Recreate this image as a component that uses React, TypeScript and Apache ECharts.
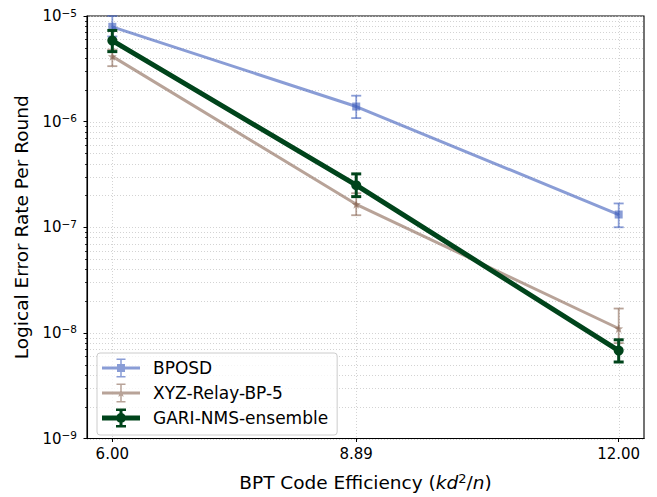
import React, { useEffect, useRef } from "react";
import * as echarts from "echarts";

const efficiency = [6.0, 8.89, 12.0];
const xTicks = [6.0, 8.89, 12.0];

const bposd = [7.9e-6, 1.39e-6, 1.32e-7];
const bposdLow = [6.4e-6, 1.08e-6, 1.0e-7];
const bposdHigh = [1.0e-5, 1.76e-6, 1.68e-7];

const xyz = [4.15e-6, 1.65e-7, 1.1e-8];
const xyzLow = [3.35e-6, 1.3e-7, 8.0e-9];
const xyzHigh = [4.8e-6, 2.1e-7, 1.7e-8];

const gari = [5.85e-6, 2.5e-7, 6.8e-9];
const gariLow = [4.6e-6, 1.95e-7, 5.3e-9];
const gariHigh = [7.3e-6, 3.2e-7, 8.6e-9];

const seriesNames = ["BPOSD", "XYZ-Relay-BP-5", "GARI-NMS-ensemble"];
const decadeExps = [-9, -8, -7, -6, -5];
const minorMultipliers = [2, 3, 4, 5, 6, 7, 8, 9];

const FONT = "DejaVu Sans";
const BLUE = "rgba(60,92,187,0.6)";
const BROWN = "rgba(137,102,83,0.6)";
const GREEN = "#00441b";

function starPath(cx: number, cy: number, ro: number, ri: number): string {
  const pts: string[] = [];
  for (let k = 0; k < 10; k++) {
    const a = -Math.PI / 2 + (k * Math.PI) / 5;
    const r = k % 2 === 0 ? ro : ri;
    pts.push(`${(cx + r * Math.cos(a)).toFixed(2)} ${(cy + r * Math.sin(a)).toFixed(2)}`);
  }
  return "M" + pts.join("L") + "Z";
}

const STAR_SYMBOL = "path://" + starPath(10, 10, 10, 4.2);

const ICON_BPOSD =
  "path://M0 8H38V11H0Z M18.25 0H19.75V19H18.25Z M14.5 0H23.5V1.5H14.5Z M14.5 17.5H23.5V19H14.5Z M15 5.5H23V13.5H15Z";
const ICON_XYZ =
  "path://M0 8H38V11H0Z M18.25 0H19.75V19H18.25Z M14.5 0H23.5V1.5H14.5Z M14.5 17.5H23.5V19H14.5Z " +
  starPath(19, 9.8, 4.5, 1.9);
const ICON_GARI =
  "path://M0 7H38V12H0Z M17.5 0H20.5V19H17.5Z M14 0H24V2.5H14Z M14 16.5H24V19H14Z M14 9.5A5 5 0 1 1 24 9.5A5 5 0 1 1 14 9.5Z";

function errorBarSeries(
  x: number[],
  lo: number[],
  hi: number[],
  color: string,
  width: number,
  capHalf: number,
  z: number
) {
  return {
    type: "custom",
    name: "_err" + z,
    coordinateSystem: "cartesian2d",
    clip: false,
    silent: true,
    z,
    data: x.map((xv, i) => [xv, lo[i], hi[i]]),
    encode: { x: 0, y: [1, 2] },
    renderItem: (_params: any, api: any) => {
      const xv = api.value(0);
      const pLo = api.coord([xv, api.value(1)]);
      const pHi = api.coord([xv, api.value(2)]);
      const st = { stroke: color, lineWidth: width, fill: null };
      return {
        type: "group",
        children: [
          { type: "line", shape: { x1: pLo[0], y1: pLo[1], x2: pHi[0], y2: pHi[1] }, style: st },
          { type: "line", shape: { x1: pLo[0] - capHalf, y1: pLo[1], x2: pLo[0] + capHalf, y2: pLo[1] }, style: st },
          { type: "line", shape: { x1: pHi[0] - capHalf, y1: pHi[1], x2: pHi[0] + capHalf, y2: pHi[1] }, style: st },
        ],
      };
    },
  };
}

export default function App() {
  const ref = useRef<HTMLDivElement>(null);
  useEffect(() => {
    if (!ref.current) return;
    const chart = echarts.init(ref.current, undefined, { renderer: "svg" });

    const gridData: number[][] = [];
    decadeExps.forEach((e) => gridData.push([6, Math.pow(10, e), 0]));
    decadeExps.slice(0, -1).forEach((e) =>
      minorMultipliers.forEach((m) => gridData.push([6, m * Math.pow(10, e), 1]))
    );
    xTicks.forEach((xv) => gridData.push([xv, 1e-9, 2]));

    const gridStroke = { stroke: "#c8c8c8", lineWidth: 0.8, lineDash: [1, 2], fill: null };

    const option: any = {
      animation: false,
      backgroundColor: "#ffffff",
      textStyle: { fontFamily: FONT },
      grid: {
        left: 87,
        top: 16,
        right: 13,
        bottom: 53,
        show: true,
        borderColor: "#000",
        borderWidth: 1.1,
        backgroundColor: "transparent",
      },
      legend: {
        orient: "vertical",
        left: 97,
        top: 353,
        padding: [5.5, 9, 7.5, 5],
        itemWidth: 38,
        itemHeight: 19,
        itemGap: 6,
        borderColor: "#cccccc",
        borderWidth: 1,
        borderRadius: 3,
        backgroundColor: "rgba(255,255,255,0.8)",
        textStyle: { fontFamily: FONT, fontSize: 17, color: "#000", padding: [0, 0, 0, 8] },
        data: [
          { name: seriesNames[0], icon: ICON_BPOSD },
          { name: seriesNames[1], icon: ICON_XYZ },
          { name: seriesNames[2], icon: ICON_GARI },
        ],
        z: 20,
      },
      xAxis: {
        type: "value",
        min: 5.7,
        max: 12.3,
        splitLine: { show: false },
        axisLine: { show: true, lineStyle: { color: "#000", width: 1.1 } },
        axisTick: {
          show: true,
          customValues: xTicks,
          length: 3.5,
          lineStyle: { color: "#000", width: 1 },
        },
        axisLabel: {
          customValues: xTicks,
          formatter: (v: number) => v.toFixed(2),
          fontFamily: FONT,
          fontSize: 15,
          color: "#000",
          margin: 8,
        },
        name: "{n|BPT Code Efficiency (}{i|kd}{s|2}{n|/}{i|n}{n|)}",
        nameLocation: "middle",
        nameGap: 33,
        nameTextStyle: {
          rich: {
            n: { fontFamily: FONT, fontSize: 18.5, color: "#000", lineHeight: 22 },
            i: { fontFamily: FONT, fontSize: 18.5, fontStyle: "italic", color: "#000", lineHeight: 22 },
            s: { fontFamily: FONT, fontSize: 13, color: "#000", verticalAlign: "top", lineHeight: 13 },
          },
        },
      },
      yAxis: {
        type: "log",
        logBase: 10,
        min: 1e-9,
        max: 1e-5,
        splitNumber: 4,
        splitLine: { show: false },
        axisLine: { show: true, lineStyle: { color: "#000", width: 1.1 } },
        axisTick: { show: true, length: 3.5, lineStyle: { color: "#000", width: 1 } },
        axisLabel: {
          fontFamily: FONT,
          fontSize: 15,
          color: "#000",
          margin: 10,
          formatter: (v: number) => {
            const e = Math.round(Math.log10(v));
            return "{b|10}{s|\u2212" + Math.abs(e) + "}";
          },
          rich: {
            b: { fontFamily: FONT, fontSize: 15, color: "#000", lineHeight: 18 },
            s: { fontFamily: FONT, fontSize: 10.5, color: "#000", verticalAlign: "top", lineHeight: 12 },
          },
        },
        name: "Logical Error Rate Per Round",
        nameLocation: "middle",
        nameGap: 56,
        nameTextStyle: { fontFamily: FONT, fontSize: 18.5, color: "#000" },
      },
      series: [
        {
          type: "custom",
          name: "_grid",
          coordinateSystem: "cartesian2d",
          clip: false,
          silent: true,
          z: 0,
          data: gridData,
          encode: { x: 0, y: 1 },
          renderItem: (params: any, api: any) => {
            const cs = params.coordSys;
            const kind = api.value(2);
            if (kind === 2) {
              const p = api.coord([api.value(0), 1e-9]);
              const x = Math.round(p[0]) + 0.5;
              return {
                type: "line",
                shape: { x1: x, y1: cs.y, x2: x, y2: cs.y + cs.height },
                style: gridStroke,
              };
            }
            const p = api.coord([6, api.value(1)]);
            const y = Math.round(p[1]) + 0.5;
            const children: any[] = [
              {
                type: "line",
                shape: { x1: cs.x, y1: y, x2: cs.x + cs.width, y2: y },
                style: gridStroke,
              },
            ];
            if (kind === 1) {
              children.push({
                type: "line",
                shape: { x1: cs.x - 2, y1: y, x2: cs.x, y2: y },
                style: { stroke: "#000", lineWidth: 0.8, fill: null },
              });
            }
            return { type: "group", children };
          },
        },
        {
          type: "line",
          name: seriesNames[0],
          data: efficiency.map((x, i) => [x, bposd[i]]),
          symbol: "rect",
          symbolSize: 8,
          lineStyle: { color: BLUE, width: 3 },
          itemStyle: { color: BLUE },
          z: 2,
        },
        errorBarSeries(efficiency, bposdLow, bposdHigh, BLUE, 1.8, 5, 3),
        {
          type: "line",
          name: seriesNames[1],
          data: efficiency.map((x, i) => [x, xyz[i]]),
          symbol: STAR_SYMBOL,
          symbolSize: 9,
          lineStyle: { color: BROWN, width: 3 },
          itemStyle: { color: BROWN },
          z: 4,
        },
        errorBarSeries(efficiency, xyzLow, xyzHigh, BROWN, 1.8, 5, 5),
        {
          type: "line",
          name: seriesNames[2],
          data: efficiency.map((x, i) => [x, gari[i]]),
          symbol: "circle",
          symbolSize: 10,
          lineStyle: { color: GREEN, width: 5 },
          itemStyle: { color: GREEN },
          z: 6,
        },
        errorBarSeries(efficiency, gariLow, gariHigh, GREEN, 3, 5, 7),
      ],
    };
    chart.setOption(option);
    return () => chart.dispose();
  }, []);
  return <div ref={ref} style={{ width: 657, height: 497, position: "absolute", left: 0, top: 0 }} />;
}
